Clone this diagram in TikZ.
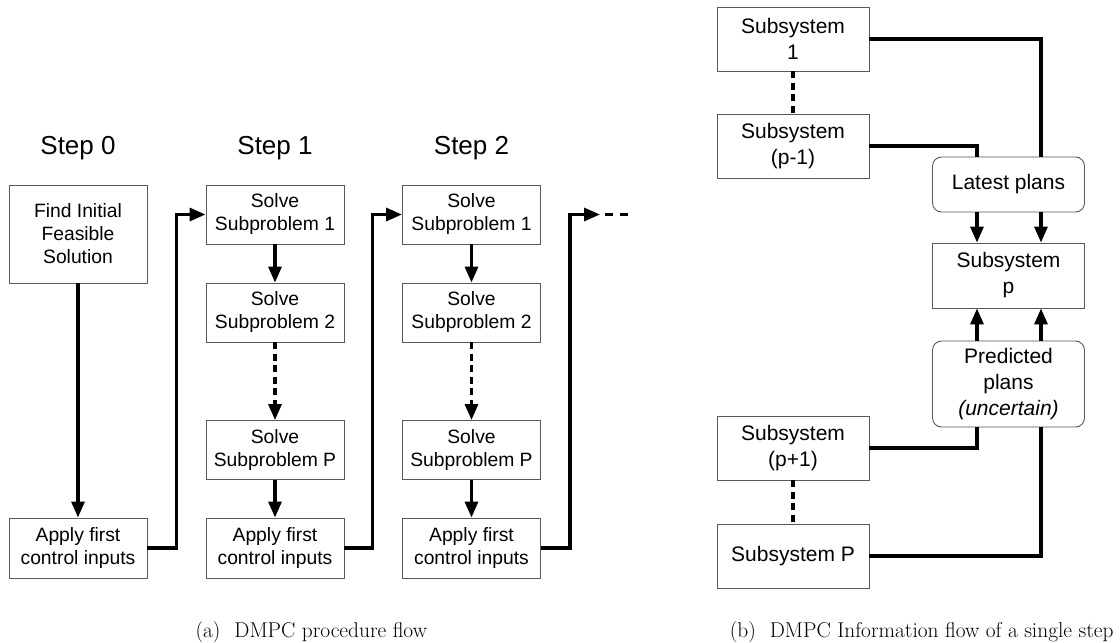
\documentclass[tikz,border=0pt]{standalone}
\usepackage{fontspec}
\setsansfont{Liberation Sans}
\usetikzlibrary{arrows.meta,calc}
\begin{document}
\begin{tikzpicture}[x=1pt,y=-1pt,
  box/.style={draw=black!65, line width=0.9pt, fill=white, inner sep=0pt, align=center,
              font=\sffamily\fontsize{19.3}{23}\selectfont},
  lbox/.style={box, minimum width=138pt, minimum height=59pt},
  rbox/.style={box, minimum width=152pt, minimum height=64pt,
               font=\sffamily\fontsize{21}{26}\selectfont},
  planbox/.style={rbox, rounded corners=9pt},
  flow/.style={line width=3.2pt, -{Triangle[length=16pt,width=13pt]}},
  link/.style={line width=3.2pt},
  gap/.style={dash pattern=on 7pt off 4.5pt},
  steplabel/.style={font=\sffamily\fontsize{26}{30}\selectfont, anchor=base},
  captext/.style={font=\rmfamily\fontsize{21.4}{26}\selectfont}
]
\useasboundingbox (0,0) rectangle (1120,643);

% ---------- (a) procedure flow ----------
\node[steplabel] (t0) at (78,154) {Step 0};
\node[steplabel] (t1) at (275,154) {Step 1};
\node[steplabel] (t2) at (471.5,154) {Step 2};

\node[lbox, minimum height=98pt] (find) at (78,234) {Find Initial\\Feasible\\Solution};
\node[lbox, minimum height=60pt] (a0) at (78,548) {Apply first\\control inputs};

\node[lbox] (s11) at (275,214.5) {Solve\\Subproblem 1};
\node[lbox] (s12) at (275,312.5) {Solve\\Subproblem 2};
\node[lbox] (s1P) at (275,450) {Solve\\Subproblem P};
\node[lbox, minimum height=60pt] (a1) at (275,548) {Apply first\\control inputs};

\node[lbox] (s21) at (471.5,214.5) {Solve\\Subproblem 1};
\node[lbox] (s22) at (471.5,312.5) {Solve\\Subproblem 2};
\node[lbox] (s2P) at (471.5,450) {Solve\\Subproblem P};
\node[lbox, minimum height=60pt] (a2) at (471.5,548) {Apply first\\control inputs};

\coordinate (next) at (600,214.5);
\coordinate (more) at (605,214.5);

\draw[flow] (find) -- (a0);
\draw[flow] (a0.east) -- ++(29,0) |- (s11.west);

\draw[flow] (s11) -- (s12);
\draw[flow, gap] (s12) -- (s1P);
\draw[flow] (s1P) -- (a1);
\draw[flow] (a1.east) -- ++(28,0) |- (s21.west);

\draw[flow] (s21) -- (s22);
\draw[flow, gap] (s22) -- (s2P);
\draw[flow] (s2P) -- (a2);
\draw[flow] (a2.east) -- ++(29,0) |- (next);
\draw[link, dash pattern=on 8pt off 7pt] (more) -- ++(23,0);

\node[captext, anchor=base west] (capa) at (192,637) {(a)\hspace{0.65em}DMPC procedure flow};

% ---------- (b) information flow ----------
\node[rbox] (sub1) at (793,39) {Subsystem\\1};
\node[rbox] (subpm) at (793,146) {Subsystem\\(p-1)};
\node[planbox, minimum height=55pt] (latest) at (1008.5,184.5) {Latest plans};
\node[rbox, minimum height=65pt] (subp) at (1008.5,275.5) {Subsystem\\p};
\node[planbox, minimum height=86pt] (pred) at (1008.5,384) {Predicted\\plans\\\textit{(uncertain)}};
\node[rbox] (subpp) at (793,448) {Subsystem\\(p+1)};
\node[rbox] (subP) at (793,556) {Subsystem P};

\draw[link, gap] (sub1) -- (subpm);
\draw[link, gap] (subpp) -- (subP);

\draw[link] (sub1.east) -| ($(latest.north)+(32.5,0)$);
\draw[link] (subpm.east) -| ($(latest.north)+(-31.5,0)$);
\draw[flow] ($(latest.south)+(-31.5,0)$) -- ($(subp.north)+(-31.5,0)$);
\draw[flow] ($(latest.south)+(32.5,0)$) -- ($(subp.north)+(32.5,0)$);

\draw[flow] ($(pred.north)+(-31.5,0)$) -- ($(subp.south)+(-31.5,0)$);
\draw[flow] ($(pred.north)+(32.5,0)$) -- ($(subp.south)+(32.5,0)$);
\draw[link] (subpp.east) -| ($(pred.south)+(-31.5,0)$);
\draw[link] (subP.east) -| ($(pred.south)+(32.5,0)$);

\node[captext, anchor=base east] (capb) at (1117,637) {(b)\hspace{0.65em}DMPC Information flow of a single step};
\end{tikzpicture}
\end{document}
